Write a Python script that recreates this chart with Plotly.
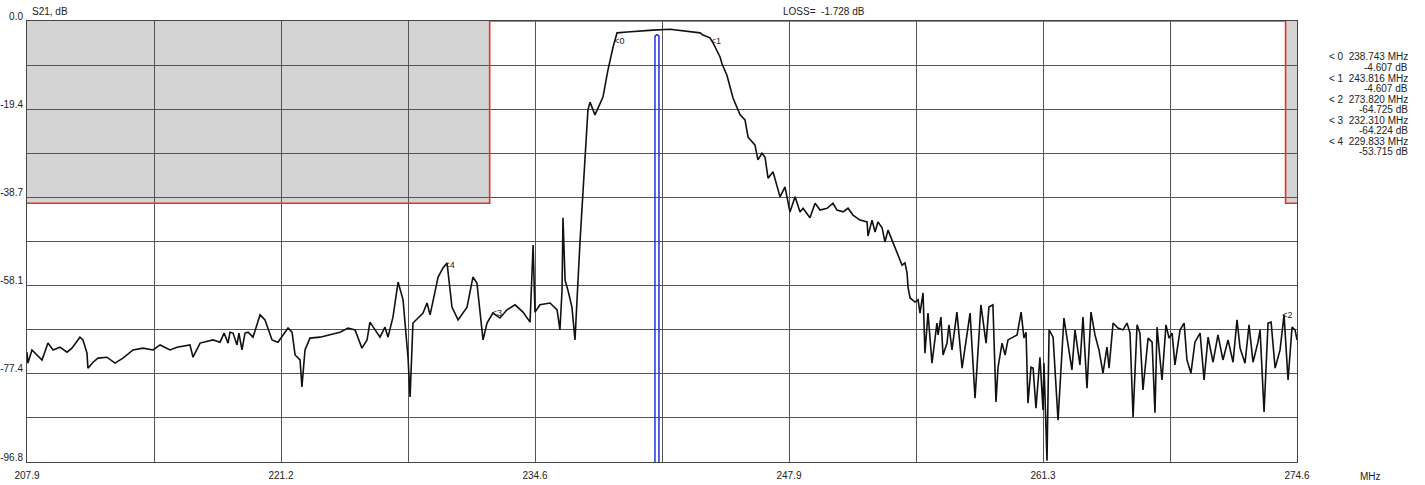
import plotly.graph_objects as go

# ---------------- data ----------------
freq_mhz = [
    207.90, 207.95, 208.16, 208.43, 208.69, 209.00, 209.27, 209.63, 210.00, 210.26,
    210.68, 210.84, 211.05, 211.10, 211.37, 211.63, 212.10, 212.52, 212.94, 213.47,
    213.99, 214.52, 214.89, 215.41, 215.78, 216.46, 216.62, 216.99,
    217.67, 218.04, 218.25, 218.46, 218.56, 218.72, 218.93, 219.03, 219.19, 219.35, 219.51, 219.77,
    220.14, 220.40, 220.77, 221.08,
    221.61, 221.82, 221.98, 222.24, 222.34, 222.50, 222.76, 223.29, 223.81, 224.34,
    224.76, 225.13, 225.49, 225.76, 225.91, 226.28, 226.44, 226.70, 226.86, 227.12,
    227.39, 227.65, 227.91, 228.02, 228.17, 228.44, 228.70, 228.91, 229.07, 229.49,
    229.75, 229.96, 230.22, 230.54, 231.01, 231.32, 231.53, 231.85, 232.06, 232.37,
    232.74, 233.11, 233.53, 233.95, 234.32, 234.48, 234.58, 234.84, 235.37, 235.74,
    235.89, 236.00, 236.05, 236.16, 236.31, 236.52, 236.68, 236.94, 237.10, 237.26,
    237.36, 237.47, 237.73, 238.15, 238.41, 238.68, 238.89, 239.41, 239.94, 240.78,
    241.67, 242.35, 242.88, 243.25, 243.40, 243.77, 243.93, 244.30, 244.40, 244.66,
    244.98, 245.35, 245.61, 245.77, 246.13, 246.29, 246.50, 246.66, 246.82, 247.08,
    247.45, 247.71, 247.97, 248.24, 248.50, 248.66, 249.02, 249.29, 249.55, 249.92,
    250.23, 250.44, 250.76, 251.02, 251.28, 251.65, 252.02, 252.07, 252.28, 252.44,
    252.59, 252.81, 252.96, 253.12, 253.33, 253.59, 253.86, 254.01, 254.12, 254.17,
    254.28, 254.54, 254.70, 254.80, 254.96, 255.06, 255.22, 255.43, 255.69, 255.75,
    255.90, 256.01, 256.22, 256.32, 256.48, 256.74, 257.01, 257.43, 257.69, 258.00,
    258.27, 258.42, 258.63, 258.79, 258.90, 259.11, 259.27, 259.42, 259.69, 259.90,
    260.11, 260.26, 260.37, 260.47, 260.63, 260.74, 260.89, 261.10, 261.26, 261.31,
    261.47, 261.58, 261.79, 262.05, 262.36, 262.57, 262.78, 262.94, 263.20, 263.36,
    263.57, 263.78, 263.99, 264.20, 264.41, 264.62, 264.73, 264.94, 265.20, 265.46,
    265.67, 265.83, 265.99, 266.20, 266.35, 266.51, 266.78, 266.99, 267.14, 267.25,
    267.51, 267.72, 267.88, 268.04, 268.19, 268.46, 268.67, 268.82, 269.03, 269.24,
    269.51, 269.72, 269.93, 270.19, 270.45, 270.71, 270.98, 271.24, 271.45, 271.61,
    271.87, 272.08, 272.29, 272.55, 272.66, 272.87, 273.08, 273.24, 273.45, 273.71,
    273.92, 274.13, 274.34, 274.50, 274.60,
]
s21_db = [
    -72.7, -75.1, -72.2, -73.3, -74.4, -70.7, -72.2, -71.6, -72.7, -71.8,
    -69.4, -70.0, -72.9, -76.2, -74.9, -74.0, -73.8, -75.1, -74.0, -72.2,
    -71.8, -72.2, -71.1, -72.2, -71.6, -71.1, -73.8, -70.7,
    -70.0, -70.5, -68.5, -70.7, -68.3, -68.5, -71.1, -68.5, -72.2, -68.5, -68.3, -69.4,
    -64.5, -65.6, -70.0, -70.5,
    -67.4, -68.3, -73.3, -74.4, -80.3, -72.2, -69.6, -69.4, -68.9, -68.3,
    -67.4, -67.8, -71.8, -70.0, -66.1, -68.3, -69.4, -67.2, -69.4, -65.0,
    -57.3, -61.2, -73.8, -82.5, -66.3, -65.2, -64.1, -61.9, -64.5, -56.2,
    -54.2, -53.1, -62.8, -65.6, -62.8, -56.2, -57.5, -70.0, -66.3, -64.1,
    -65.2, -63.4, -62.3, -63.9, -66.1, -49.2, -63.9, -62.3, -61.9, -63.4,
    -67.8, -59.1, -43.2, -56.9, -59.1, -62.8, -70.0, -48.7, -37.5, -26.1,
    -19.5, -17.8, -20.6, -16.7, -10.8, -5.7, -2.6, -2.4, -2.2, -2.0,
    -1.8, -2.2, -2.4, -2.6, -3.1, -3.7, -4.8, -7.9, -9.4, -11.9,
    -16.9, -20.6, -21.7, -25.5, -27.2, -30.5, -29.0, -29.9, -34.5, -33.1,
    -38.6, -36.4, -41.9, -38.6, -41.9, -41.1, -43.2, -40.0, -41.5, -41.1,
    -40.0, -41.5, -41.9, -41.1, -42.6, -43.7, -44.1, -47.2, -43.7, -46.3,
    -44.1, -45.4, -48.5, -45.9, -48.1, -50.9, -53.6, -53.1, -55.3, -58.4,
    -60.8, -61.7, -61.2, -64.1, -59.7, -72.9, -64.1, -75.1, -66.3, -68.9,
    -65.0, -73.3, -70.7, -66.7, -72.2, -63.9, -76.2, -64.1, -82.8, -62.3,
    -70.7, -62.8, -62.3, -83.6, -76.0, -70.7, -73.3, -70.0, -69.4, -68.9,
    -63.9, -69.6, -68.3, -83.9, -76.0, -76.2, -85.0, -73.8, -85.4, -75.1,
    -96.5, -67.8, -69.4, -87.6, -65.2, -70.5, -76.6, -67.8, -75.5, -65.0,
    -80.6, -63.9, -68.9, -72.2, -77.3, -71.6, -76.2, -66.3, -67.4, -67.8,
    -66.3, -68.5, -86.9, -66.7, -68.5, -81.0, -69.6, -70.5, -86.0, -67.2,
    -78.8, -66.7, -69.6, -68.5, -75.5, -67.8, -66.3, -74.4, -77.3, -70.5,
    -68.5, -78.8, -69.4, -74.9, -68.9, -74.4, -70.0, -74.9, -65.6, -71.8,
    -75.1, -66.7, -74.9, -70.5, -67.8, -85.8, -66.3, -66.1, -76.2, -72.2,
    -64.5, -78.8, -67.2, -67.8, -70.0,
]

marker_ids = [0, 1, 2, 3, 4]
marker_freq = [238.743, 243.816, 273.820, 232.310, 229.833]
marker_db = [-4.607, -4.607, -64.725, -64.224, -53.715]

# limit mask (dB) versus frequency
mask_freq = [207.9, 232.2, 232.2, 274.0, 274.0, 274.6]
mask_db = [-40.0, -40.0, 0.0, 0.0, -40.0, -40.0]

# cursor bar
cursor_freq = [240.88, 240.88, 240.98, 241.09, 241.09]
cursor_db = [-96.8, -3.3, -3.0, -3.3, -96.8]

loss_db = -1.728

x_min, x_max = 207.9, 274.6
y_min, y_max = -96.8, 0.0
x_grid = [207.9 + i * (x_max - x_min) / 10 for i in range(11)]
y_grid = [y_max - i * (y_max - y_min) / 10 for i in range(11)]
x_labels = ["207.9", "", "221.2", "", "234.6", "", "247.9", "", "261.3", "", "274.6"]
y_labels = ["0.0", "", "-19.4", "", "-38.7", "", "-58.1", "", "-77.4", "", "-96.8"]

FONT = "Liberation Sans"
TXT = "#222222"

fig = go.Figure()

# gray forbidden areas of the mask (below gridlines)
shapes = []
for i in range(0, len(mask_freq) - 1):
    f0, f1 = mask_freq[i], mask_freq[i + 1]
    lv = mask_db[i]
    if f1 > f0 and lv < 0:
        shapes.append(dict(type="rect", xref="x", yref="y", x0=f0, x1=f1,
                           y0=lv, y1=y_max, fillcolor="#d4d4d4",
                           line=dict(width=0), layer="below"))

# red mask line
fig.add_trace(go.Scatter(x=mask_freq, y=mask_db, mode="lines",
                         line=dict(color="#e8302c", width=1.6), cliponaxis=False,
                         hoverinfo="skip", showlegend=False))

# blue cursor
fig.add_trace(go.Scatter(x=cursor_freq, y=cursor_db, mode="lines",
                         line=dict(color="#2233dd", width=1.5),
                         hoverinfo="skip", showlegend=False))

# S21 trace
fig.add_trace(go.Scatter(x=freq_mhz, y=s21_db, mode="lines",
                         line=dict(color="#111111", width=1.6),
                         showlegend=False))

# marker labels on the trace
fig.add_trace(go.Scatter(x=marker_freq, y=marker_db, mode="text",
                         text=["<" + str(m) for m in marker_ids],
                         textposition="middle right",
                         textfont=dict(family=FONT, size=9, color="#222"),
                         showlegend=False, hoverinfo="skip"))

annotations = [
    dict(text="S21, dB", x=0.002, y=1.0, xref="paper", yref="paper",
         xanchor="left", yanchor="bottom", yshift=2, showarrow=False,
         font=dict(family=FONT, size=10, color=TXT)),
    dict(text="LOSS=  %.3f dB" % loss_db, x=0.6276, y=1.0, xref="paper", yref="paper",
         xanchor="center", yanchor="bottom", yshift=2, showarrow=False,
         font=dict(family=FONT, size=10, color=TXT)),
    dict(text="MHz", x=1.0575, y=0, xref="paper", yref="paper",
         xanchor="center", yanchor="top", yshift=-7, showarrow=False,
         font=dict(family=FONT, size=10, color=TXT)),
]
# marker readout list on the right
line_h = 10.55
for k, (m, f, d) in enumerate(zip(marker_ids, marker_freq, marker_db)):
    for j, t in enumerate(["< %d  %.3f MHz" % (m, f), "%.3f dB" % d]):
        ypix = 57 + (2 * k + j) * line_h
        annotations.append(dict(text=t, x=1.089, y=(462 - ypix) / 441,
                                xref="paper", yref="paper", xanchor="right",
                                yanchor="middle", showarrow=False,
                                font=dict(family=FONT, size=10, color=TXT)))

fig.update_layout(
    width=1425, height=485,
    margin=dict(l=27, r=128, t=21, b=23, pad=0, autoexpand=False),
    paper_bgcolor="white", plot_bgcolor="white",
    shapes=shapes, annotations=annotations,
    xaxis=dict(range=[x_min, x_max], tickvals=x_grid, ticktext=x_labels,
               showgrid=True, gridcolor="#555555", gridwidth=1, automargin=False,
               zeroline=False, showline=True, linecolor="#444444", linewidth=1,
               mirror=True, ticks="", ticklabelstandoff=4,
               tickfont=dict(family=FONT, size=10, color=TXT)),
    yaxis=dict(range=[y_min, y_max], tickvals=y_grid, ticktext=y_labels,
               showgrid=True, gridcolor="#555555", gridwidth=1, automargin=False,
               zeroline=False, showline=True, linecolor="#444444", linewidth=1,
               mirror=True, ticks="", ticklabelstandoff=1, ticklabelshift=-5,
               tickfont=dict(family=FONT, size=10, color=TXT)),
)

# remove the default 8px page margin so the figure fills the window exactly
fig.write_html("out.html", config={"displayModeBar": False},
               post_script="document.body.style.margin='0';document.body.style.overflow='hidden';")
